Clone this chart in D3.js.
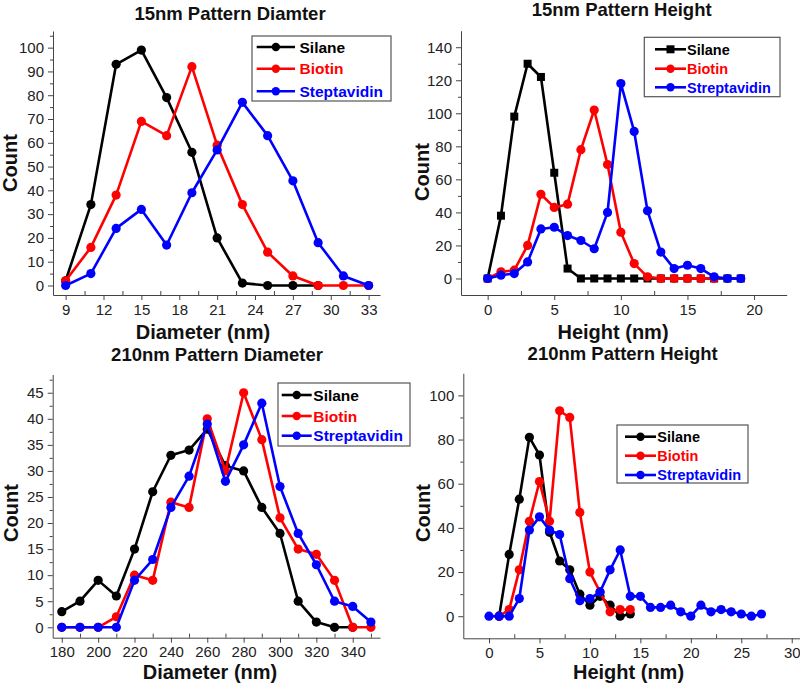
<!DOCTYPE html>
<html><head><meta charset="utf-8">
<script src="https://cdn.jsdelivr.net/npm/d3@7"></script>
<style>
body{margin:0;background:#fff}
svg{display:block}
text{font-family:Arial,"Liberation Sans",sans-serif}
</style>
</head><body>
<svg id="c" width="800" height="685"></svg>
<script>
// ---------- data ----------
const seriesNames = ["Silane", "Biotin", "Streptavidin"];
const seriesNamesP1 = ["Silane", "Biotin", "Steptavidin"];
const seriesColors = ["#000000", "#ff0000", "#0000ff"];

const titles = ["15nm Pattern Diamter", "15nm Pattern Height", "210nm Pattern Diameter", "210nm Pattern Height"];
const xLabels = ["Diameter (nm)", "Height (nm)", "Diameter (nm)", "Height (nm)"];
const yLabel = "Count";

// Panel 1: 15nm diameter
const p1X = [9, 11, 13, 15, 17, 19, 21, 23, 25, 27, 29, 31, 33];
const p1Silane = [2, 34, 93, 99, 79, 56, 20, 1, 0, 0, 0, null, null];
const p1Biotin = [2, 16, 38, 69, 63, 92, 59, 34, 14, 4, 0, 0, 0];
const p1Strep  = [0, 5, 24, 32, 17, 39, 57, 77, 63, 44, 18, 4, 0];
const p1XTicks = [9, 12, 15, 18, 21, 24, 27, 30, 33];
const p1YTicks = [0, 10, 20, 30, 40, 50, 60, 70, 80, 90, 100];

// Panel 2: 15nm height
const p2X = [0, 1, 2, 3, 4, 5, 6, 7, 8, 9, 10, 11, 12, 13, 14, 15, 16, 17, 18, 19];
const p2Silane = [0, 38, 98, 130, 122, 64, 6, 0, 0, 0, 0, 0, 0, 0, 0, 0, 0, 0, 0, 0];
const p2Biotin = [0, 4, 5, 20, 51, 43, 45, 78, 102, 69, 28, 9, 1, 0, 0, 0, 0, 0, null, null];
const p2Strep  = [0, 2, 3, 10, 30, 31, 26, 23, 18, 40, 118, 89, 41, 16, 6, 8, 6, 1, 0, 0];
const p2XTicks = [0, 5, 10, 15, 20];
const p2YTicks = [0, 20, 40, 60, 80, 100, 120, 140];

// Panel 3: 210nm diameter
const p3X = [180, 190, 200, 210, 220, 230, 240, 250, 260, 270, 280, 290, 300, 310, 320, 330, 340, 350];
const p3Silane = [3, 5, 9, 6, 15, 26, 33, 34, 38, 31, 30, 23, 18, 5, 1, 0, 0, null];
const p3Biotin = [0, 0, 0, 2, 10, 9, 24, 23, 40, 30, 45, 36, 21, 15, 14, 9, 0, 0];
const p3Strep  = [0, 0, 0, 0, 9, 13, 23, 29, 39, 28, 35, 43, 27, 18, 12, 5, 4, 1];
const p3XTicks = [180, 200, 220, 240, 260, 280, 300, 320, 340];
const p3YTicks = [0, 5, 10, 15, 20, 25, 30, 35, 40, 45];

// Panel 4: 210nm height
const p4X = [0, 1, 2, 3, 4, 5, 6, 7, 8, 9, 10, 11, 12, 13, 14, 15, 16, 17, 18, 19, 20, 21, 22, 23, 24, 25, 26, 27];
const p4Silane = [null, 0, 28, 53, 81, 73, 38, 25, 21, 10, 5, 9, 5, 0, 1, null, null, null, null, null, null, null, null, null, null, null, null, null];
const p4Biotin = [null, 0, 3, 21, 43, 61, 43, 93, 90, 47, 20, 11, 2, 3, 3, null, null, null, null, null, null, null, null, null, null, null, null, null];
const p4Strep  = [0, 0, 0, 8, 39, 45, 39, 37, 17, 7, 8, 11, 21, 30, 9, 9, 4, 4, 5, 2, 0, 5, 2, 3, 2, 1, 0, 1];
const p4XTicks = [0, 5, 10, 15, 20, 25, 30];
const p4YTicks = [0, 20, 40, 60, 80, 100];

// ---------- drawing ----------
const svg = d3.select("#c");
svg.append("rect").attr("width", 800).attr("height", 685).attr("fill", "#fff");

const axisColor = "#444";

function drawPanel(cfg) {
  const g = svg.append("g");
  const x = d3.scaleLinear().domain(cfg.xDom).range(cfg.xRange);
  const y = d3.scaleLinear().domain(cfg.yDom).range(cfg.yRange);
  const y0 = cfg.yRange[0], x0 = cfg.xRange[0];

  // minor ticks
  const gxm = g.append("g").attr("transform", `translate(0,${y0})`)
    .call(d3.axisBottom(x).tickValues(cfg.xMinor).tickSizeInner(-4).tickSizeOuter(0).tickFormat(""));
  gxm.select(".domain").remove();
  const gym = g.append("g").attr("transform", `translate(${x0},0)`)
    .call(d3.axisLeft(y).tickValues(cfg.yMinor).tickSizeInner(3).tickSizeOuter(0).tickFormat(""));
  gym.select(".domain").remove();

  // major axes
  const gx = g.append("g").attr("transform", `translate(0,${y0})`)
    .call(d3.axisBottom(x).tickValues(cfg.xTicks).tickSizeInner(5).tickSizeOuter(0).tickPadding(4).tickFormat(d3.format("d")));
  const gy = g.append("g").attr("transform", `translate(${x0},0)`)
    .call(d3.axisLeft(y).tickValues(cfg.yTicks).tickSizeInner(5).tickSizeOuter(0).tickPadding(4).tickFormat(d3.format("d")));

  [gx, gy, gxm, gym].forEach(a => {
    a.selectAll("path,line").attr("stroke", axisColor).attr("stroke-width", 1);
    a.selectAll("text").attr("font-size", 15).attr("fill", "#222")
      .attr("font-family", "Arial, 'Liberation Sans', sans-serif");
  });

  // series
  cfg.series.forEach((vals, i) => {
    const pts = cfg.xs.map((xv, j) => ({x: xv, v: vals[j]})).filter(d => d.v != null);
    const line = d3.line().x(d => x(d.x)).y(d => y(d.v));
    g.append("path").datum(pts).attr("d", line).attr("fill", "none")
      .attr("stroke", seriesColors[i]).attr("stroke-width", 2.6).attr("stroke-linejoin", "round");
    const shape = cfg.shapes[i];
    if (shape === "square") {
      g.selectAll(null).data(pts).enter().append("rect")
        .attr("x", d => x(d.x) - 4).attr("y", d => y(d.v) - 4)
        .attr("width", 8).attr("height", 8).attr("fill", seriesColors[i]);
    } else {
      g.selectAll(null).data(pts).enter().append("circle")
        .attr("cx", d => x(d.x)).attr("cy", d => y(d.v)).attr("r", 4.6)
        .attr("fill", seriesColors[i]);
    }
  });

  // title
  g.append("text").attr("x", cfg.title[1]).attr("y", cfg.title[2])
    .attr("text-anchor", "middle").attr("font-size", 18.5).attr("font-weight", "bold")
    .attr("fill", "#111").text(cfg.title[0]);
  // x label
  g.append("text").attr("x", cfg.xLab[1]).attr("y", cfg.xLab[2])
    .attr("text-anchor", "middle").attr("font-size", 20).attr("font-weight", "bold")
    .attr("fill", "#111").text(cfg.xLab[0]);
  // y label
  g.append("text").attr("transform", `translate(${cfg.yLab[0]},${cfg.yLab[1]}) rotate(-90)`)
    .attr("text-anchor", "middle").attr("font-size", 20).attr("font-weight", "bold")
    .attr("fill", "#111").text(yLabel);

  // legend
  const L = cfg.legend;
  g.append("rect").attr("x", L.x).attr("y", L.y).attr("width", L.w).attr("height", L.h)
    .attr("fill", "#fff").attr("stroke", "#555").attr("stroke-width", 1.2);
  L.rows.forEach((ry, i) => {
    g.append("line").attr("x1", L.l1).attr("x2", L.l2).attr("y1", ry).attr("y2", ry)
      .attr("stroke", seriesColors[i]).attr("stroke-width", 2.6);
    const mx = (L.l1 + L.l2) / 2;
    if (cfg.shapes[i] === "square") {
      g.append("rect").attr("x", mx - 4).attr("y", ry - 4).attr("width", 8).attr("height", 8)
        .attr("fill", seriesColors[i]);
    } else {
      g.append("circle").attr("cx", mx).attr("cy", ry).attr("r", 4.2).attr("fill", seriesColors[i]);
    }
    g.append("text").attr("x", L.tx).attr("y", ry).attr("dy", "0.36em")
      .attr("font-size", L.fs).attr("font-weight", "bold").attr("fill", seriesColors[i])
      .text(cfg.names[i]);
  });
}

drawPanel({
  xs: p1X, series: [p1Silane, p1Biotin, p1Strep], shapes: ["circle", "circle", "circle"], names: seriesNamesP1,
  xDom: [8, 33.9], xRange: [53, 380], yDom: [-4, 107], yRange: [295, 31],
  xTicks: p1XTicks, xMinor: d3.range(10.5, 33, 3), yTicks: p1YTicks, yMinor: d3.range(5, 106, 10),
  title: [titles[0], 230, 20], xLab: [xLabels[0], 203, 339], yLab: [17, 163],
  legend: {x: 252, y: 36, w: 139, h: 65, rows: [47, 68.7, 91.3], l1: 256.7, l2: 295, tx: 299.5, fs: 15.5}
});

drawPanel({
  xs: p2X, series: [p2Silane, p2Biotin, p2Strep], shapes: ["square", "circle", "circle"], names: seriesNames,
  xDom: [-2, 22.45], xRange: [461, 786.7], yDom: [-10, 150], yRange: [295, 30.7],
  xTicks: p2XTicks, xMinor: d3.range(2.5, 22.5, 5), yTicks: p2YTicks, yMinor: d3.range(10, 150, 20),
  title: [titles[1], 621.7, 16], xLab: [xLabels[1], 613, 339], yLab: [429, 172],
  legend: {x: 644.3, y: 37.3, w: 135.7, h: 59.4, rows: [49.3, 68.7, 87.3], l1: 655, l2: 686, tx: 687, fs: 14.5}
});

drawPanel({
  xs: p3X, series: [p3Silane, p3Biotin, p3Strep], shapes: ["circle", "circle", "circle"], names: seriesNames,
  xDom: [175, 355], xRange: [52.7, 380], yDom: [-2, 48.5], yRange: [637.7, 374.5],
  xTicks: p3XTicks, xMinor: d3.range(190, 355, 20), yTicks: p3YTicks, yMinor: d3.range(2.5, 48, 5),
  title: [titles[2], 217, 361], xLab: [xLabels[2], 210, 679], yLab: [18, 513],
  legend: {x: 278, y: 383, w: 132, h: 63, rows: [395, 416, 435.7], l1: 281.7, l2: 311.7, tx: 313.3, fs: 15.5}
});

drawPanel({
  xs: p4X, series: [p4Silane, p4Biotin, p4Strep], shapes: ["circle", "circle", "circle"], names: seriesNames,
  xDom: [-2.55, 32], xRange: [463.3, 811.9], yDom: [-10, 110], yRange: [638.3, 373.3],
  xTicks: p4XTicks, xMinor: d3.range(2.5, 32, 5), yTicks: p4YTicks, yMinor: d3.range(10, 110, 20),
  title: [titles[3], 622.7, 360], xLab: [xLabels[3], 628.5, 679], yLab: [430, 513],
  legend: {x: 617, y: 425, w: 131, h: 58, rows: [436.7, 455.7, 475], l1: 625, l2: 656, tx: 657.3, fs: 14.5}
});
</script>
</body></html>
